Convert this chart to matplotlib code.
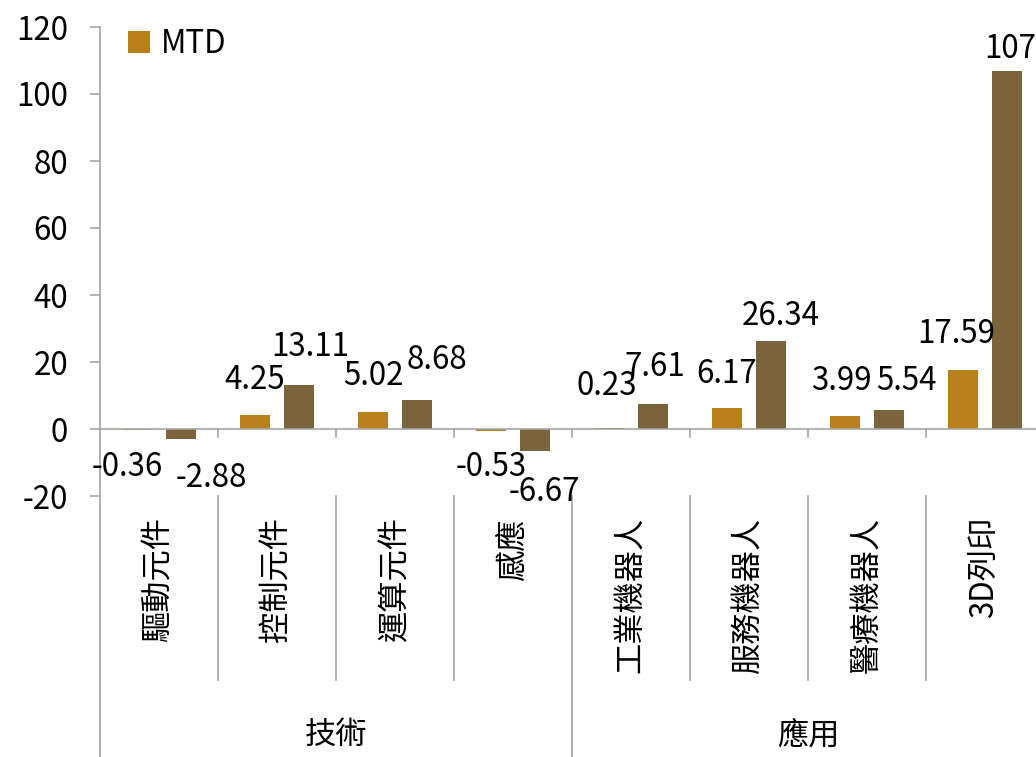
import matplotlib
matplotlib.use("Agg")
import matplotlib.pyplot as plt
import matplotlib.transforms as mtransforms
import numpy as np

plt.rcParams["font.family"] = ["Noto Sans CJK TC", "DejaVu Sans"]

categories = ["驅動元件", "控制元件", "運算元件", "感應",
              "工業機器人", "服務機器人", "醫療機器人", "3D列印"]
groups = ["技術", "應用"]
group_sizes = [4, 4]
mtd = [-0.36, 4.25, 5.02, -0.53, 0.23, 6.17, 3.99, 17.59]
ytd = [-2.88, 13.11, 8.68, -6.67, 7.61, 26.34, 5.54, 107]
yticks = [-20, 0, 20, 40, 60, 80, 100, 120]

# data label placement (px) as in the source chart: sideways nudge, distance from bar end
mtd_dx = [-10, 0, 0, 0, -2, 0, -4, -7]
ytd_dx = [30, 11, 20, 9, 2, 10, 18, 3]
mtd_dy = [37, 35, 36, 36, 42, 34, 35, 36]
ytd_dy = [39, 38, 40, 41, 37, 25, 29, 22]

GOLD = "#B8801A"
BROWN = "#7B643B"
GRID = "#A6A6A6"
FS = 22.5

W, H = 1036, 757
fig = plt.figure(figsize=(W / 100, H / 100), dpi=100)
# axes spans x 100..1044 px (clipped at right), y 27..496 px
ax = fig.add_axes([100 / W, 1 - 496 / H, 944 / W, 469 / H])

x = np.arange(len(categories)) + 0.5
bw = 0.254
off = 0.186
ax.bar(x - off, mtd, bw, color=GOLD, label="MTD")
ax.bar(x + off, ytd, bw, color=BROWN)

ax.set_xlim(0, len(categories))
ax.set_ylim(-20, 120)
ax.set_yticks(yticks)
ax.set_yticklabels([str(v) for v in yticks], fontsize=FS)
ax.tick_params(axis="y", length=7, width=1.2, color=GRID, pad=16)
ax.set_xticks([])
for s in ["top", "right", "bottom"]:
    ax.spines[s].set_visible(False)
ax.spines["left"].set_color(GRID)
ax.spines["left"].set_linewidth(1.2)
ax.axhline(0, color=GRID, lw=1.2, zorder=1)

# data labels
pt = 0.72  # points per pixel at dpi 100
for xs, vals, dxs, dys in [(x - off, mtd, mtd_dx, mtd_dy), (x + off, ytd, ytd_dx, ytd_dy)]:
    for xi, v, dx, dy in zip(xs, vals, dxs, dys):
        sign = 1 if v >= 0 else -1
        ax.annotate(f"{v:g}", (xi, v), xytext=(dx * pt, dy * pt * sign),
                    textcoords="offset points", ha="center", va="center",
                    fontsize=FS, annotation_clip=False)

# category axis: separators and labels below the plot
tr = mtransforms.blended_transform_factory(ax.transData, ax.transAxes)
bounds = np.cumsum([0] + group_sizes)
for i in range(1, len(categories)):
    ax.plot([i, i], [0, -0.392], transform=tr, color=GRID, lw=1.2, clip_on=False)
    ax.plot([i, i], [20 / 140, 20 / 140 - 0.018], transform=tr, color=GRID,
            lw=1.2, clip_on=False)
for b in bounds[1:-1]:
    ax.plot([b, b], [-0.392, -0.6], transform=tr, color=GRID, lw=1.2, clip_on=False)
ax.plot([0, 0], [0, -0.6], transform=tr, color=GRID, lw=1.2, clip_on=False)

for xi, lab in zip(x, categories):
    ax.text(xi, -0.045, lab, transform=tr, rotation=90, ha="center", va="top",
            fontsize=FS)
for g, a, b in zip(groups, bounds[:-1], bounds[1:]):
    ax.text((a + b) / 2, -0.51, g, transform=tr, ha="center", va="center",
            fontsize=FS)

ax.legend(loc="center left", bbox_to_anchor=(28 / 944, (496 - 44) / 469),
          frameon=False, fontsize=FS, handlelength=0.7, handleheight=0.7,
          handletextpad=0.35, borderaxespad=0, borderpad=0)

fig.savefig("out.png", dpi=100)
